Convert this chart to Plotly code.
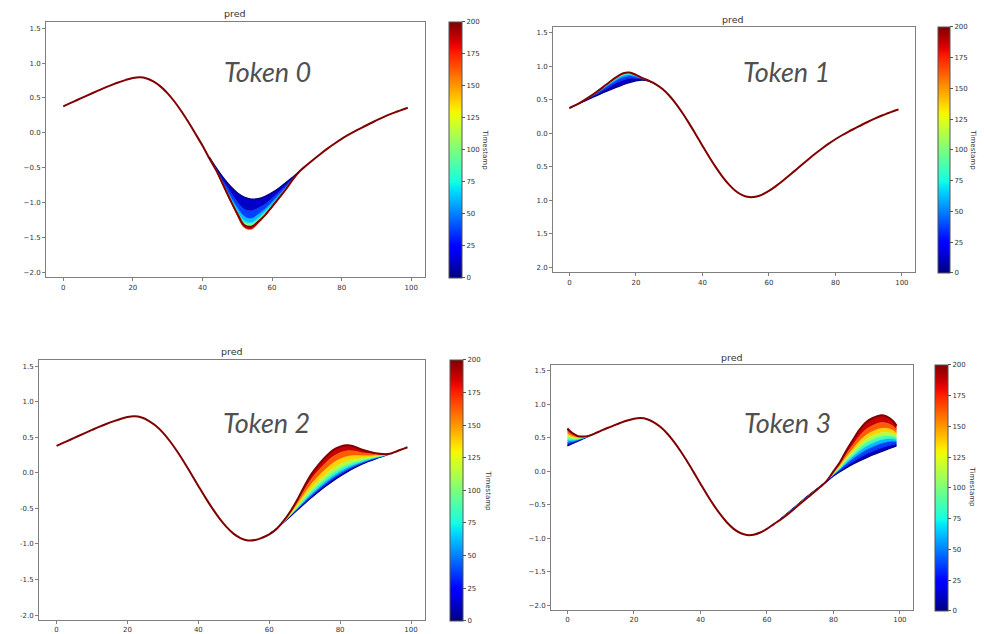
import numpy as np
import plotly.graph_objects as go

W, H = 984, 634

# ---------------- data ----------------
BASE_X = [0, 2, 4, 6, 8, 10, 12, 14, 16, 18, 20, 22, 24, 26, 28, 30, 32, 34, 36, 38, 40,
          42, 44, 46, 48, 50, 52, 54, 56, 58, 60, 62, 64, 66, 68, 70, 72, 74, 76, 78, 80,
          82, 84, 86, 88, 90, 92, 94, 96, 98, 99]
BASE_Y = [0.38, 0.425, 0.47, 0.515, 0.56, 0.604, 0.647, 0.687, 0.725, 0.759, 0.785, 0.795,
          0.778, 0.733, 0.662, 0.566, 0.445, 0.305, 0.150, -0.015, -0.183, -0.348, -0.503,
          -0.643, -0.763, -0.858, -0.92, -0.95, -0.945, -0.912, -0.858, -0.79, -0.714, -0.632,
          -0.548, -0.463, -0.38, -0.30, -0.224, -0.153, -0.087, -0.027, 0.028, 0.079, 0.13,
          0.178, 0.225, 0.268, 0.305, 0.342, 0.36]

TIMESTAMPS = [0, 25, 50, 75, 100, 125, 150, 175, 200]

TOKEN0_X = [42, 44, 46, 48, 50, 52, 54, 56, 58, 60, 62, 64, 66, 68]
TOKEN0_CURVES = [
    [-0.348, -0.503, -0.643, -0.763, -0.858, -0.92, -0.95, -0.945, -0.912, -0.858, -0.79, -0.714, -0.632, -0.548],
    [-0.358, -0.523, -0.693, -0.843, -0.988, -1.093, -1.117, -1.077, -1.02, -0.94, -0.845, -0.75, -0.648, -0.548],
    [-0.358, -0.533, -0.723, -0.903, -1.068, -1.193, -1.227, -1.167, -1.09, -0.99, -0.885, -0.78, -0.658, -0.548],
    [-0.368, -0.533, -0.743, -0.933, -1.118, -1.263, -1.287, -1.227, -1.13, -1.03, -0.915, -0.79, -0.658, -0.548],
    [-0.368, -0.543, -0.753, -0.953, -1.138, -1.293, -1.317, -1.257, -1.16, -1.04, -0.925, -0.80, -0.668, -0.548],
    [-0.368, -0.543, -0.753, -0.963, -1.158, -1.313, -1.337, -1.277, -1.17, -1.06, -0.935, -0.80, -0.668, -0.548],
    [-0.368, -0.543, -0.763, -0.963, -1.168, -1.345, -1.37, -1.29, -1.18, -1.06, -0.945, -0.81, -0.668, -0.548],
    [-0.368, -0.543, -0.763, -0.973, -1.185, -1.36, -1.385, -1.30, -1.19, -1.07, -0.945, -0.81, -0.668, -0.548],
    [-0.368, -0.543, -0.753, -0.963, -1.158, -1.323, -1.347, -1.277, -1.18, -1.06, -0.935, -0.81, -0.668, -0.548],
]

TOKEN1_X = [0, 2, 4, 6, 8, 10, 12, 14, 16, 18, 20, 22, 24, 26]
TOKEN1_CURVES = [
    [0.38, 0.425, 0.47, 0.515, 0.56, 0.604, 0.647, 0.687, 0.725, 0.759, 0.785, 0.795, 0.778, 0.733],
    [0.38, 0.426, 0.475, 0.527, 0.582, 0.638, 0.695, 0.748, 0.794, 0.82, 0.821, 0.807, 0.78, 0.733],
    [0.38, 0.426, 0.478, 0.535, 0.596, 0.659, 0.725, 0.786, 0.837, 0.858, 0.844, 0.815, 0.782, 0.733],
    [0.38, 0.427, 0.48, 0.539, 0.604, 0.672, 0.743, 0.809, 0.863, 0.881, 0.857, 0.819, 0.783, 0.733],
    [0.38, 0.427, 0.481, 0.541, 0.608, 0.679, 0.753, 0.821, 0.876, 0.893, 0.864, 0.821, 0.783, 0.733],
    [0.38, 0.427, 0.481, 0.543, 0.611, 0.683, 0.759, 0.828, 0.885, 0.90, 0.869, 0.823, 0.784, 0.733],
    [0.38, 0.427, 0.482, 0.544, 0.613, 0.686, 0.763, 0.834, 0.892, 0.906, 0.872, 0.824, 0.784, 0.733],
    [0.38, 0.427, 0.482, 0.545, 0.615, 0.689, 0.767, 0.839, 0.897, 0.911, 0.875, 0.825, 0.784, 0.733],
    [0.38, 0.427, 0.482, 0.545, 0.614, 0.688, 0.765, 0.837, 0.894, 0.909, 0.874, 0.825, 0.784, 0.733],
]

TOKEN2_X = [60, 62, 64, 66, 68, 70, 72, 74, 76, 78, 80, 82, 84, 86, 88, 90, 92, 94]
TOKEN2_CURVES = [
    [-0.858, -0.785, -0.70, -0.61, -0.52, -0.43, -0.345, -0.262, -0.185, -0.113, -0.047, 0.013, 0.068, 0.117, 0.16, 0.198, 0.232, 0.268],
    [-0.858, -0.785, -0.699, -0.607, -0.513, -0.418, -0.328, -0.243, -0.164, -0.091, -0.026, 0.032, 0.083, 0.128, 0.167, 0.202, 0.233, 0.268],
    [-0.859, -0.786, -0.698, -0.603, -0.505, -0.405, -0.312, -0.224, -0.144, -0.07, -0.005, 0.051, 0.098, 0.138, 0.174, 0.206, 0.234, 0.268],
    [-0.86, -0.787, -0.697, -0.598, -0.495, -0.388, -0.288, -0.197, -0.114, -0.039, 0.024, 0.077, 0.119, 0.153, 0.184, 0.212, 0.236, 0.268],
    [-0.861, -0.788, -0.695, -0.591, -0.48, -0.363, -0.255, -0.159, -0.073, 0.004, 0.066, 0.115, 0.15, 0.175, 0.198, 0.22, 0.24, 0.268],
    [-0.862, -0.789, -0.692, -0.582, -0.46, -0.33, -0.211, -0.109, -0.019, 0.06, 0.12, 0.164, 0.189, 0.202, 0.216, 0.231, 0.244, 0.268],
    [-0.863, -0.79, -0.688, -0.569, -0.433, -0.285, -0.151, -0.04, 0.056, 0.138, 0.195, 0.232, 0.243, 0.241, 0.241, 0.246, 0.25, 0.268],
    [-0.864, -0.791, -0.684, -0.555, -0.401, -0.232, -0.08, 0.04, 0.143, 0.229, 0.282, 0.311, 0.307, 0.285, 0.271, 0.263, 0.258, 0.268],
    [-0.865, -0.792, -0.68, -0.54, -0.37, -0.18, -0.01, 0.12, 0.23, 0.32, 0.37, 0.39, 0.37, 0.33, 0.30, 0.278, 0.265, 0.268],
]

TOKEN3_LEFT_X = [0, 1, 2, 3, 4, 5, 6, 8]
TOKEN3_LEFT_CURVES = [
    [0.38, 0.402, 0.425, 0.448, 0.47, 0.493, 0.515, 0.56],
    [0.406, 0.419, 0.434, 0.454, 0.475, 0.495, 0.516, 0.56],
    [0.432, 0.438, 0.447, 0.462, 0.48, 0.497, 0.517, 0.56],
    [0.463, 0.461, 0.463, 0.472, 0.486, 0.50, 0.518, 0.56],
    [0.497, 0.486, 0.481, 0.483, 0.493, 0.504, 0.519, 0.56],
    [0.531, 0.51, 0.498, 0.494, 0.499, 0.507, 0.52, 0.56],
    [0.567, 0.537, 0.517, 0.506, 0.506, 0.512, 0.522, 0.56],
    [0.604, 0.563, 0.536, 0.518, 0.513, 0.516, 0.524, 0.56],
    [0.64, 0.59, 0.555, 0.53, 0.52, 0.52, 0.526, 0.56],
]

TOKEN3_RIGHT_X = [64, 66, 68, 70, 72, 74, 76, 78, 80, 82, 84, 86, 88, 90, 92, 94, 96, 98, 99]
TOKEN3_RIGHT_CURVES = [
    [-0.714, -0.632, -0.548, -0.463, -0.38, -0.30, -0.224, -0.153, -0.07, -0.005, 0.055, 0.11, 0.16, 0.205, 0.248, 0.288, 0.325, 0.36, 0.378],
    [-0.715, -0.634, -0.55, -0.465, -0.382, -0.302, -0.225, -0.152, -0.063, 0.01, 0.082, 0.147, 0.207, 0.259, 0.303, 0.343, 0.375, 0.399, 0.408],
    [-0.716, -0.636, -0.552, -0.467, -0.384, -0.304, -0.226, -0.151, -0.055, 0.027, 0.113, 0.191, 0.263, 0.323, 0.369, 0.408, 0.434, 0.446, 0.444],
    [-0.717, -0.638, -0.554, -0.469, -0.386, -0.306, -0.227, -0.15, -0.048, 0.041, 0.14, 0.228, 0.31, 0.376, 0.425, 0.463, 0.483, 0.485, 0.475],
    [-0.718, -0.64, -0.556, -0.471, -0.388, -0.308, -0.228, -0.149, -0.041, 0.056, 0.166, 0.265, 0.357, 0.43, 0.48, 0.518, 0.533, 0.524, 0.505],
    [-0.719, -0.642, -0.558, -0.473, -0.39, -0.31, -0.229, -0.148, -0.034, 0.07, 0.193, 0.302, 0.404, 0.483, 0.535, 0.572, 0.582, 0.563, 0.535],
    [-0.72, -0.645, -0.561, -0.476, -0.393, -0.313, -0.23, -0.147, -0.025, 0.088, 0.225, 0.347, 0.461, 0.547, 0.601, 0.638, 0.642, 0.61, 0.571],
    [-0.722, -0.648, -0.564, -0.479, -0.396, -0.316, -0.232, -0.145, -0.014, 0.111, 0.267, 0.406, 0.536, 0.633, 0.69, 0.726, 0.721, 0.672, 0.62],
    [-0.724, -0.652, -0.568, -0.483, -0.40, -0.32, -0.234, -0.143, 0.00, 0.14, 0.32, 0.48, 0.63, 0.74, 0.80, 0.835, 0.82, 0.75, 0.68],
]

TOKEN_LABELS = ["Token 0", "Token 1", "Token 2", "Token 3"]
X_TICKS = [0, 20, 40, 60, 80, 100]
Y_TICKS = [-2.0, -1.5, -1.0, -0.5, 0.0, 0.5, 1.0, 1.5]
Y_TICKTEXT_MPL = ["\u22122.0", "\u22121.5", "\u22121.0", "\u22120.5", "0.0", "0.5", "1.0", "1.5"]
Y_TICKTEXT_NOSIGN = ["2.0", "1.5", "1.0", "0.5", "0.0", "0.5", "1.0", "1.5"]
Y_TICKTEXT_HYPHEN = ["-2.0", "-1.5", "-1.0", "-0.5", "0.0", "0.5", "1.0", "1.5"]
CB_TICKS = [0, 25, 50, 75, 100, 125, 150, 175, 200]

# ---------------- style helpers ----------------
def jet(v):
    r = np.interp(v, [0, 0.35, 0.66, 0.89, 1], [0, 0, 1, 1, 0.5])
    g = np.interp(v, [0, 0.125, 0.375, 0.64, 0.91, 1], [0, 0, 1, 1, 0, 0])
    b = np.interp(v, [0, 0.11, 0.34, 0.65, 1], [0.5, 1, 1, 0, 0])
    return "rgb(%d,%d,%d)" % (round(r * 255), round(g * 255), round(b * 255))

JET_SCALE = [[float(v), jet(v)] for v in np.linspace(0, 1, 41)]
TMAX = 200.0

# panel geometry in pixels
PANELS = [
    dict(box=(46, 425, 22, 278), cb=(449, 462, 22, 278), title=(235, 14), token=(267, 72),
         cblab=(485, 150), yt=Y_TICKTEXT_MPL,
         bands=[(TOKEN0_X, TOKEN0_CURVES)]),
    dict(box=(553, 915, 27, 273), cb=(938, 950, 27, 273), title=(733, 20), token=(786, 72),
         cblab=(973, 150), yt=Y_TICKTEXT_NOSIGN,
         bands=[(TOKEN1_X, TOKEN1_CURVES)]),
    dict(box=(39, 425, 361, 622), cb=(450, 463, 361, 622), title=(232, 353), token=(266, 424),
         cblab=(488, 492), yt=Y_TICKTEXT_HYPHEN,
         bands=[(TOKEN2_X, TOKEN2_CURVES)]),
    dict(box=(551, 913, 366, 612), cb=(935, 948, 366, 612), title=(732, 359), token=(787, 424),
         cblab=(972, 488), yt=Y_TICKTEXT_MPL,
         bands=[(TOKEN3_LEFT_X, TOKEN3_LEFT_CURVES), (TOKEN3_RIGHT_X, TOKEN3_RIGHT_CURVES)]),
]

AXIS_COLOR = "#7f7f7f"
TEXT_COLOR = "#333333"
FONT = "DejaVu Sans"

fig = go.Figure()
annotations = []
layout_axes = {}

for i, p in enumerate(PANELS, start=1):
    xa = "x" if i == 1 else "x%d" % i
    ya = "y" if i == 1 else "y%d" % i
    x0, x1, y0, y1 = p["box"]

    # colour bands (one curve per timestamp, areas between them coloured by timestamp)
    for bx, curves in p["bands"]:
        for k, (t, cy) in enumerate(zip(TIMESTAMPS, curves)):
            if k == 0:
                fig.add_trace(go.Scatter(x=bx, y=cy, xaxis=xa, yaxis=ya, mode="lines",
                                         line=dict(color=jet(0), width=1.2, shape="spline"),
                                         hoverinfo="skip", showlegend=False))
            else:
                mid = (TIMESTAMPS[k - 1] + t) / 2.0 / TMAX
                fig.add_trace(go.Scatter(x=bx, y=cy, xaxis=xa, yaxis=ya, mode="lines",
                                         fill="tonexty", fillcolor=jet(mid),
                                         line=dict(color=jet(mid), width=0.6, shape="spline"),
                                         hoverinfo="skip", showlegend=False))

    # final (last timestamp) curve: base outside the bands, last band curve inside
    pts = []
    for x, y in zip(BASE_X, BASE_Y):
        if not any(bx[0] <= x <= bx[-1] for bx, _ in p["bands"]):
            pts.append((x, y))
    for bx, curves in p["bands"]:
        pts.extend(zip(bx, curves[-1]))
    pts.sort(key=lambda q: q[0])
    fig.add_trace(go.Scatter(x=[q[0] for q in pts], y=[q[1] for q in pts], xaxis=xa, yaxis=ya,
                             mode="lines", line=dict(color=jet(1.0), width=2, shape="spline"),
                             hoverinfo="skip", showlegend=False))

    # colorbar holder
    cx0, cx1, cy0, cy1 = p["cb"]
    fig.add_trace(go.Scatter(x=[None, None], y=[None, None], xaxis=xa, yaxis=ya, mode="markers",
                             marker=dict(color=[TIMESTAMPS[0], TIMESTAMPS[-1]], cmin=0, cmax=TMAX,
                                         colorscale=JET_SCALE, showscale=True,
                                         colorbar=dict(x=cx0 / W, xanchor="left", xpad=0,
                                                       y=1 - cy0 / H, yanchor="top", ypad=0,
                                                       len=cy1 - cy0, lenmode="pixels",
                                                       thickness=cx1 - cx0, thicknessmode="pixels",
                                                       outlinewidth=1, outlinecolor="#555555",
                                                       tickvals=CB_TICKS, ticks="outside", ticklen=3,
                                                       tickcolor="#555555",
                                                       tickfont=dict(size=7, color=TEXT_COLOR, family=FONT))),
                             hoverinfo="skip", showlegend=False))

    axis_common = dict(showline=True, mirror=True, linecolor=AXIS_COLOR, linewidth=1,
                       ticks="outside", ticklen=3, tickcolor=AXIS_COLOR, showgrid=False,
                       zeroline=False, tickfont=dict(size=7, color=TEXT_COLOR, family=FONT))
    layout_axes["xaxis" if i == 1 else "xaxis%d" % i] = dict(
        domain=[x0 / W, x1 / W], range=[-4.95, 103.95], anchor=ya, tickvals=X_TICKS, **axis_common)
    layout_axes["yaxis" if i == 1 else "yaxis%d" % i] = dict(
        domain=[1 - y1 / H, 1 - y0 / H], range=[-2.07, 1.59], anchor=xa, tickvals=Y_TICKS,
        ticktext=p["yt"], **axis_common)

    tx, ty = p["title"]
    annotations.append(dict(text="pred", x=tx / W, y=1 - ty / H, xref="paper", yref="paper",
                            showarrow=False, xanchor="center", yanchor="middle",
                            font=dict(size=9.5, color=TEXT_COLOR, family=FONT)))
    kx, ky = p["token"]
    annotations.append(dict(text="<i>%s</i>" % TOKEN_LABELS[i - 1], x=kx / W, y=1 - ky / H,
                            xref="paper", yref="paper", showarrow=False, xanchor="center",
                            yanchor="middle", font=dict(size=27, color="#505050", family="Lato")))
    lx, ly = p["cblab"]
    annotations.append(dict(text="Timestamp", x=lx / W, y=1 - ly / H, xref="paper", yref="paper",
                            showarrow=False, textangle=90, xanchor="center", yanchor="middle",
                            font=dict(size=7, color=TEXT_COLOR, family=FONT)))

fig.update_layout(width=W, height=H, margin=dict(l=0, r=0, t=0, b=0, pad=0),
                  paper_bgcolor="white", plot_bgcolor="white", showlegend=False,
                  annotations=annotations, font=dict(family=FONT), **layout_axes)

fig.write_html("out.html")
